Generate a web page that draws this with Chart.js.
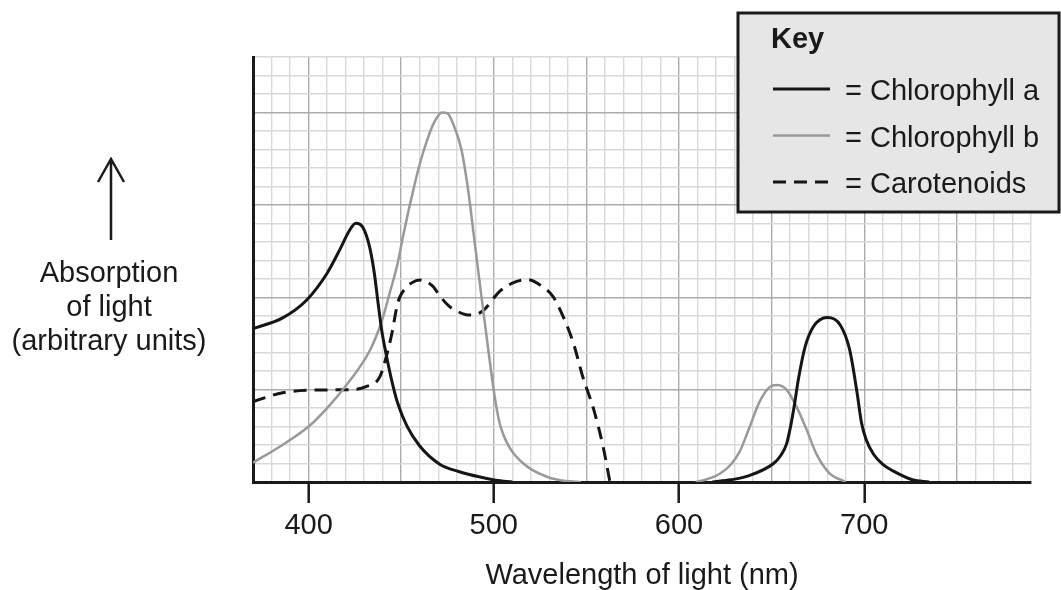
<!DOCTYPE html>
<html>
<head>
<meta charset="utf-8">
<title>Absorption of light by photosynthetic pigments</title>
<script src="https://cdn.jsdelivr.net/npm/chart.js@4.4.1/dist/chart.umd.min.js"></script>
<style>
  html, body { margin: 0; padding: 0; background: #fff; }
  #wrap { width: 1061px; height: 590px; }
</style>
</head>
<body>
<div id="wrap"><canvas id="spectrum" width="1061" height="590"></canvas></div>
<script>
// ======= DADOS =======
const wavelengthTicks = [400, 500, 600, 700];

const chlAWave = [370, 386, 399, 410, 417, 422, 425.5, 429.5, 433, 435.5,
  437.5, 439.5, 442, 445, 448, 453, 460, 471, 481, 492,
  501, 510, 560, 618, 628, 636.5, 651, 655, 658, 660,
  662, 664.5, 668, 672.5, 680, 687, 692, 696, 698.5, 701,
  705, 710, 715.5, 726, 735];
const chlAAbs = [8.3, 8.88, 9.85, 11.3, 12.6, 13.6, 14.0, 13.75, 12.7, 11.3,
  9.7, 8.2, 6.85, 5.45, 4.3, 3.05, 1.95, 0.95, 0.57, 0.28,
  0.1, 0, null, 0, 0.12, 0.3, 1.0, 1.45, 2.05, 2.9,
  4.0, 5.6, 7.3, 8.4, 8.9, 8.5, 7.2, 4.9, 3.2, 2.3,
  1.5, 0.95, 0.6, 0.12, 0];

const chlBWave = [370, 385, 400, 410, 422, 433, 439.5, 444, 448, 451,
  454, 457, 460, 464, 468, 472, 475, 478, 482.5, 486,
  490, 494, 498, 500.5, 503, 505, 508, 511, 516, 520,
  526, 531, 539, 547, 580, 609, 615, 622, 628, 633,
  638, 643.5, 649, 652.5, 658, 663.5, 669, 674, 681, 690];
const chlBAbs = [1.05, 1.95, 3.0, 4.0, 5.45, 7.1, 8.7, 10.3, 11.8, 13.3,
  14.7, 16.0, 17.2, 18.5, 19.5, 20.0, 19.95, 19.4, 18.0, 15.9,
  12.7, 9.5, 6.4, 4.6, 3.25, 2.6, 1.95, 1.5, 1.0, 0.7,
  0.4, 0.2, 0.05, 0, null, 0, 0.15, 0.45, 0.95, 1.7,
  2.95, 4.35, 5.15, 5.25, 5.0, 4.05, 2.8, 1.55, 0.5, 0];

const carWave = [370, 386, 404, 422, 431, 438.5, 442, 445, 447.6, 449,
  452, 456, 460, 467, 471, 476, 480, 486, 489, 494,
  496, 503, 512, 518.5, 525, 532, 537.5, 543, 548, 554,
  559, 562.7];
const carAbs = [4.35, 4.83, 4.98, 5.0, 5.16, 5.7, 6.8, 8.05, 9.45, 9.95,
  10.45, 10.8, 10.93, 10.6, 10.05, 9.5, 9.25, 9.04, 9.04, 9.25,
  9.45, 10.3, 10.84, 10.95, 10.66, 10.03, 8.94, 7.5, 5.7, 3.9,
  1.91, 0];

const yLabelLines = ["Absorption", "of light", "(arbitrary units)"];
const xLabel = "Wavelength of light (nm)";
const keyTitle = "Key";

const FONT = '"Liberation Sans", Arial, Helvetica, sans-serif';
const INK = "#1a1a1a";

const pontos = (xs, ys) => xs.map((x, i) => ({ x, y: ys[i] }));

// ======= LEGENDA "KEY" + RÓTULO DO EIXO Y =======
const extras = {
  id: "extras",
  afterDraw(chart) {
    const c = chart.ctx;
    c.save();

    // seta e rótulo do eixo y
    c.strokeStyle = INK;
    c.lineWidth = 2.5;
    c.beginPath();
    c.moveTo(111, 240); c.lineTo(111, 159);
    c.moveTo(98, 182); c.lineTo(111, 159); c.lineTo(124, 182);
    c.stroke();
    c.fillStyle = INK;
    c.font = "29px " + FONT;
    c.textAlign = "center";
    c.textBaseline = "alphabetic";
    yLabelLines.forEach((t, i) => c.fillText(t, 109, 282 + i * 34));

    // caixa da legenda
    c.fillStyle = "#e6e6e6";
    c.fillRect(738, 13, 323, 199);
    c.lineWidth = 3;
    c.strokeRect(738, 13, 321, 199);

    c.fillStyle = INK;
    c.textAlign = "left";
    c.font = "bold 29px " + FONT;
    c.fillText(keyTitle, 771, 48);

    c.font = "29px " + FONT;
    chart.data.datasets.forEach((ds, i) => {
      const y = 89 + i * 46.5;
      c.strokeStyle = ds.borderColor;
      c.lineWidth = ds.borderWidth;
      c.setLineDash(ds.borderDash || []);
      c.beginPath();
      c.moveTo(773, y); c.lineTo(830, y);
      c.stroke();
      c.setLineDash([]);
      c.fillStyle = INK;
      c.fillText("= " + ds.label, 845, y + 11);
    });
    c.restore();
  }
};

// ======= GRÁFICO =======
Chart.defaults.font.family = FONT;
Chart.defaults.color = INK;

new Chart(document.getElementById("spectrum"), {
  type: "line",
  data: {
    datasets: [
      { label: "Chlorophyll a", data: pontos(chlAWave, chlAAbs),
        borderColor: "#151515", borderWidth: 3 },
      { label: "Chlorophyll b", data: pontos(chlBWave, chlBAbs),
        borderColor: "#999999", borderWidth: 2.5 },
      { label: "Carotenoids", data: pontos(carWave, carAbs),
        borderColor: "#151515", borderWidth: 3, borderDash: [13, 8] }
    ]
  },
  options: {
    responsive: false,
    animation: false,
    spanGaps: false,
    layout: { padding: { top: 57, right: 30, left: 0, bottom: 0 } },
    elements: {
      point: { radius: 0 },
      line: { cubicInterpolationMode: "monotone", fill: false, borderCapStyle: "butt" }
    },
    plugins: { legend: { display: false }, tooltip: { enabled: false } },
    scales: {
      x: {
        type: "linear",
        min: 370,
        max: 790,
        afterFit: s => { s.height = 108; },
        ticks: {
          stepSize: 10,
          autoSkip: false,
          maxRotation: 0,
          padding: 6,
          font: { size: 29 },
          callback: v => wavelengthTicks.includes(v) ? String(v) : ""
        },
        grid: {
          color: ctx => ctx.tick && ctx.tick.value % 50 === 0 ? "#ababab" : "#d9d9d9",
          lineWidth: 1.4,
          tickLength: 21,
          tickWidth: 2.5,
          tickColor: ctx => ctx.tick && wavelengthTicks.includes(ctx.tick.value) ? INK : "rgba(0,0,0,0)"
        },
        border: { color: INK, width: 3 },
        title: {
          display: true,
          text: xLabel,
          font: { size: 29, lineHeight: 1 },
          padding: { top: 0, bottom: 0 }
        }
      },
      y: {
        min: 0,
        max: 23,
        afterFit: s => { s.width = 253; },
        ticks: { stepSize: 1, display: false },
        grid: {
          color: ctx => ctx.tick && ctx.tick.value % 5 === 0 ? "#ababab" : "#d9d9d9",
          lineWidth: 1.4,
          drawTicks: false
        },
        border: { color: INK, width: 3 }
      }
    }
  },
  plugins: [extras]
});
</script>
</body>
</html>
